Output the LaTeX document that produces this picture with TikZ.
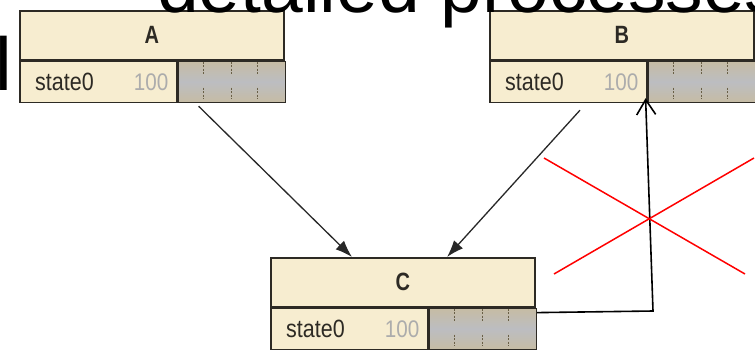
\documentclass[tikz,border=0pt]{standalone}
\usepackage{fontspec}
\setmainfont{Liberation Sans}
\newfontfamily\narrowfont[FakeStretch=0.86]{Liberation Sans}
\newfontfamily\narrowbold[FakeStretch=0.8]{Liberation Sans Bold}
\usetikzlibrary{arrows.meta}
\definecolor{cream}{RGB}{247,237,208}
\definecolor{boxline}{RGB}{45,42,36}
\definecolor{tanband}{RGB}{198,188,164}
\definecolor{slot}{RGB}{188,189,193}
\definecolor{dotc}{RGB}{105,95,70}
\definecolor{linkc}{RGB}{40,40,40}
\tikzset{
  hdr/.style={draw=boxline, line width=1.6pt, fill=cream, minimum width=264pt,
    minimum height=49pt, inner sep=0pt, anchor=north west,
    font=\narrowbold\fontsize{25}{25}\selectfont, text=boxline},
  rowl/.style={draw=boxline, line width=1.6pt, fill=cream, minimum width=157pt,
    minimum height=41pt, inner sep=0pt, anchor=north west},
  rowr/.style={draw=boxline, line width=1.6pt, top color=tanband, bottom color=tanband,
    middle color=slot, minimum width=107pt, minimum height=41pt, inner sep=0pt,
    anchor=north west},
  attr/.style={font=\narrowfont\fontsize{25}{25}\selectfont, text=boxline, inner sep=0pt},
  val/.style={font=\narrowfont\fontsize{24}{24}\selectfont, text=gray!65, inner sep=0pt},
  tick/.style={draw=dotc, line width=1.5pt, dash pattern=on 2pt off 1.5pt},
  flow/.style={draw=linkc, line width=1.3pt, -{Latex[length=17pt,width=12pt]}},
  back/.style={draw=black, line width=1.6pt, -{Straight Barb[length=15pt,width=19pt,line width=1.6pt]}},
  cross/.style={draw=red, line width=1.5pt},
  big/.style={font=\fontsize{75}{75}\selectfont, inner sep=0pt, anchor=base west}
}
% one state block: header node #1, attribute row below it
\newcommand{\stateblock}[4]{%
  \node[hdr] (#1) at (#2,#3) {#4};
  \node[rowl] (#1-l) at (#1.south west) {};
  \node[rowr] (#1-r) at (#1-l.north east) {};
  \node[attr, anchor=west] (#1-name) at ([xshift=16pt]#1-l.west) {state0};
  \node[val, anchor=east] (#1-val) at ([xshift=-9pt]#1-l.east) {100};
  \foreach \dx in {26,54,80} {
    \draw[tick] ([xshift=\dx pt, yshift=-1pt]#1-r.north west) -- ++(0,13);
    \draw[tick] ([xshift=\dx pt, yshift=-27pt]#1-r.north west) -- ++(0,11);
  }
}
\begin{document}
\begin{tikzpicture}[x=1pt, y=-1pt]
  \useasboundingbox (0,0) rectangle (755,349);
  \clip (0,0) rectangle (755,349);
  \fill[white] (0,0) rectangle (755,349);

  \stateblock{A}{19}{10}{A}
  \stateblock{B}{489}{10}{B}
  \stateblock{C}{270}{257}{C}

  % transitions into C
  \draw[flow] ([xshift=21pt, yshift=-3pt]A-r.south west) -- ([xshift=82pt]C.north west);
  \draw[flow] ([xshift=91pt, yshift=-7pt]B-l.south west) -- ([xshift=177pt]C.north west);

  % return path from C back up to B
  \coordinate (turn) at (653,311);
  \draw[back] ([yshift=-5pt]C-r.north east) -- (turn) -- ([xshift=-2pt, yshift=5pt]B-r.south west);

  % crossed-out region
  \coordinate (x1) at (544,158);
  \coordinate (x2) at (745,274);
  \coordinate (x3) at (554,274);
  \coordinate (x4) at (754,158);
  \draw[cross] (x1) -- (x2);
  \draw[cross] (x3) -- (x4);

  % heading text running over the blocks
  \node[big] (title) at (157,12.5) {detailed processes};
  \node[big] (title2) at (-5,90) {l};
\end{tikzpicture}
\end{document}
